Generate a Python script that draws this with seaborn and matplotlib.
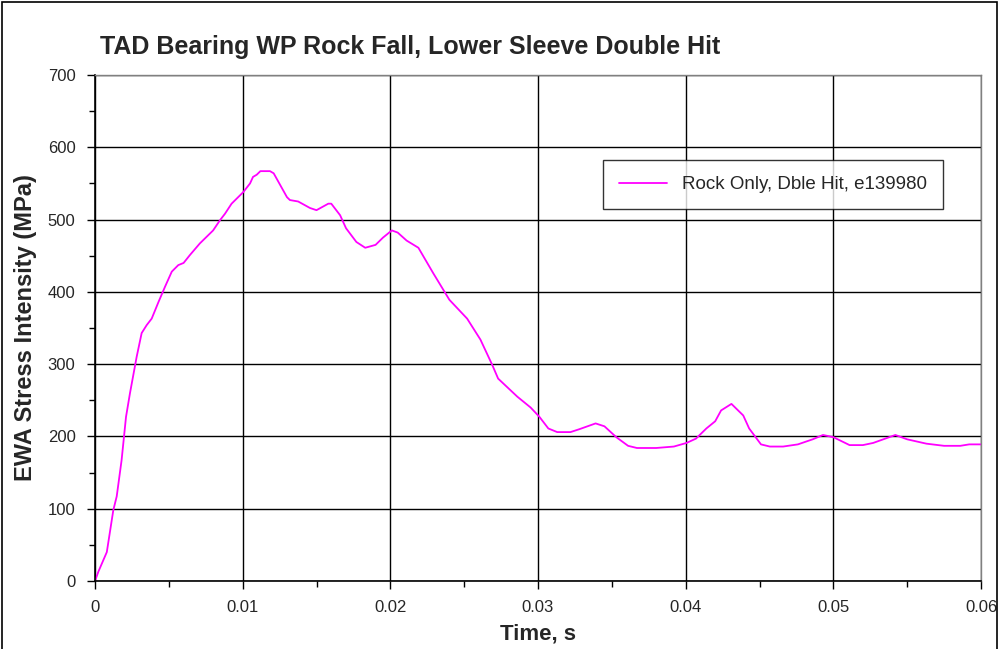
import matplotlib
matplotlib.use('Agg')
import matplotlib.pyplot as plt
import seaborn as sns
import numpy as np
import pandas as pd
from matplotlib.patches import Rectangle
from matplotlib.ticker import MultipleLocator

# time (s) and stress (MPa)
time_s = [0.0, 0.00023, 0.0008, 0.00124, 0.00147, 0.0018, 0.0021, 0.00237, 0.00282, 0.00316,
          0.0035, 0.00384, 0.0043, 0.00474, 0.0052, 0.00564, 0.006, 0.00643, 0.0071, 0.008,
          0.00846, 0.0088, 0.00925, 0.01004, 0.0105, 0.0107, 0.01095, 0.0112, 0.01185, 0.0121,
          0.013, 0.0132, 0.01376, 0.01456, 0.015, 0.0158, 0.016, 0.0166, 0.017, 0.0177,
          0.0183, 0.019, 0.0195, 0.0201, 0.0205, 0.0211, 0.0219, 0.0229, 0.024, 0.0252,
          0.0261, 0.0269, 0.0273, 0.0286, 0.0295, 0.0301, 0.0307, 0.0313, 0.0322, 0.0328,
          0.0339, 0.0345, 0.0353, 0.0361, 0.0367, 0.038, 0.0392, 0.04006, 0.0407, 0.0414,
          0.042, 0.0424, 0.0431, 0.0439, 0.0443, 0.0451, 0.0457, 0.0466, 0.0476, 0.0486,
          0.0493, 0.05, 0.0511, 0.052, 0.0527, 0.0542, 0.055, 0.0563, 0.0575, 0.0586,
          0.0592, 0.06]
stress = [0, 13, 40, 98, 117, 167, 227, 260, 310, 343,
          354, 363, 386, 407, 428, 437, 440, 451, 467, 485,
          499, 508, 522, 538, 550, 559, 562, 567, 567, 564,
          531, 527, 525, 516, 513, 522, 522, 506, 488, 469,
          461, 465, 475, 485, 482, 471, 461, 426, 389, 363,
          334, 299, 280, 255, 240, 227, 211, 206, 206, 210,
          218, 214, 199, 187, 184, 184, 186, 191, 197, 211,
          221, 236, 245, 229, 211, 189, 186, 186, 189, 196,
          202, 199, 188, 188, 191, 202, 196, 190, 187, 187,
          189, 189]
x_labels = ['0', '0.01', '0.02', '0.03', '0.04', '0.05', '0.06']
series_name = 'Rock Only, Dble Hit, e139980'

df = pd.DataFrame({'Time': time_s, 'Stress': stress, 'Run': series_name})

sns.set_style('white')
plt.rcParams['font.family'] = ['Liberation Sans', 'DejaVu Sans']

fig = plt.figure(figsize=(10.01, 6.49), dpi=100)
ax = fig.add_axes([95 / 1001, 1 - 581 / 649, 886 / 1001, 506 / 649])

sns.lineplot(data=df, x='Time', y='Stress', hue='Run', palette=['#ff00ff'],
             linewidth=1.3, ax=ax)

ax.set_xlim(0, 0.06)
ax.set_ylim(0, 700)
ax.set_xticks(np.arange(0, 0.0601, 0.01))
ax.set_xticklabels(x_labels)
ax.xaxis.set_minor_locator(MultipleLocator(0.005))
ax.yaxis.set_major_locator(MultipleLocator(100))
ax.yaxis.set_minor_locator(MultipleLocator(50))

ax.grid(True, which='major', color='black', linewidth=1)
ax.tick_params(which='major', direction='out', length=6, width=1, color='black',
               labelsize=12, left=True, bottom=True, pad=8)
ax.tick_params(which='minor', direction='out', length=4, width=1, color='black',
               left=True, bottom=True)
for side in ['left', 'bottom']:
    ax.spines[side].set_color('black')
    ax.spines[side].set_linewidth(1.2)
for side in ['top', 'right']:
    ax.spines[side].set_color('#808080')
    ax.spines[side].set_linewidth(1)

ax.set_xlabel('Time, s', fontsize=16, fontweight='bold', labelpad=6)
ax.set_ylabel('EWA Stress Intensity (MPa)', fontsize=17, fontweight='bold', labelpad=8)

fig.text(100 / 1001, 1 - 47 / 649, 'TAD Bearing WP Rock Fall, Lower Sleeve Double Hit',
         fontsize=18, fontweight='bold', ha='left', va='center')

leg = ax.legend(loc='upper left', bbox_to_anchor=(0.573, 0.832), borderaxespad=0,
                frameon=True, fontsize=13.5, handlelength=2.6, borderpad=0.85,
                fancybox=False)
leg.get_frame().set_edgecolor('black')
leg.get_frame().set_linewidth(1)

fig.add_artist(Rectangle((2 / 1001, -0.05), 995 / 1001, 1.05 - 2 / 649,
                         transform=fig.transFigure, fill=False,
                         edgecolor='black', linewidth=1.2))

fig.savefig('out.png', dpi=100)
